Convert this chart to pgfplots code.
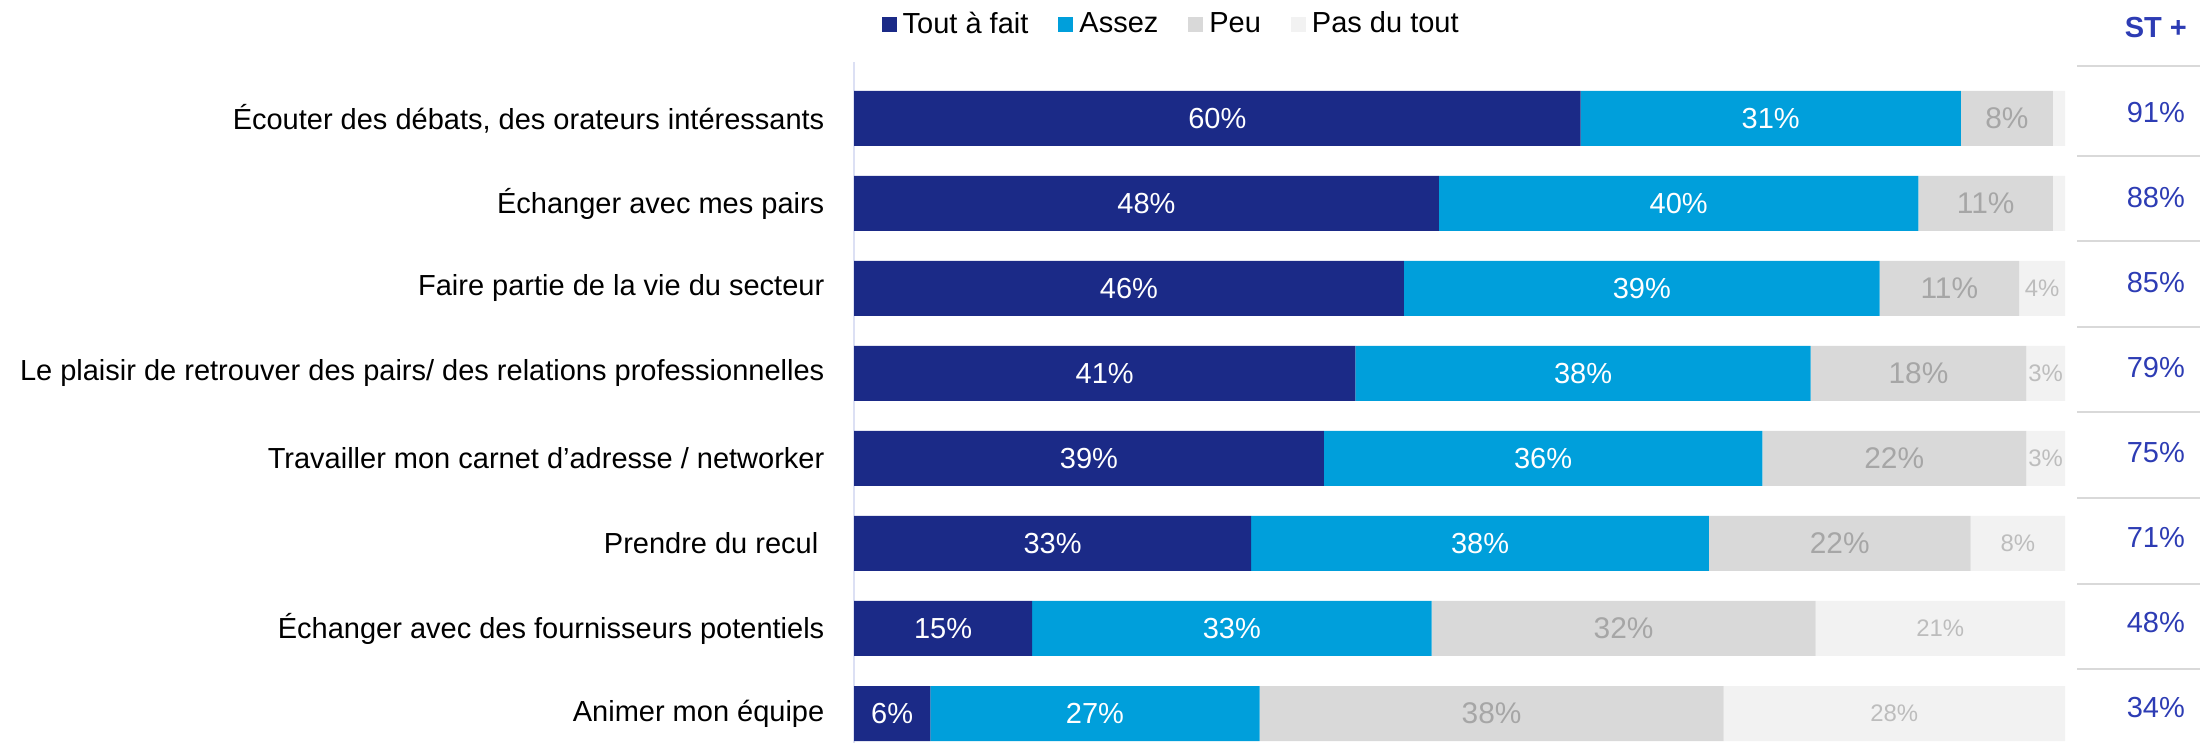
\documentclass[border=0pt]{standalone}
\usepackage{pgfplots}
\pgfplotsset{compat=1.18}
\usepackage{pgfplotstable}
\usepackage{fontspec}
\setmainfont{Liberation Sans}
\definecolor{cT}{HTML}{1B2A87}
\definecolor{cA}{HTML}{009FDB}
\definecolor{cP}{HTML}{D9D9D9}
\definecolor{cN}{HTML}{F2F2F2}
\definecolor{cST}{HTML}{2D3CB4}
\definecolor{cLab}{HTML}{A6A6A6}
\definecolor{cLabN}{HTML}{BDBDBD}
\definecolor{cAxis}{HTML}{DCE0F4}
\newcommand{\fs}[1]{\fontsize{#1}{#1}\selectfont}

\pgfplotstableread{
y a b c d
0 60.0 31.4 7.6 1.0
1 48.3 39.6 11.1 1.0
2 45.4 39.3 11.5 3.8
3 41.4 37.6 17.8 3.2
4 38.8 36.2 21.8 3.2
5 32.8 37.8 21.6 7.8
6 14.7 33.0 31.7 20.6
7 6.3 27.2 38.3 28.2
}\bars

\pgfplotsset{base/.style={
  at={(85.4mm,0)}, anchor=south west,
  width=121.1mm, height=74.3mm, scale only axis,
  xmin=0, xmax=100, ymin=-1.394, ymax=7.347, y dir=reverse,
  clip=false, axis line style={draw=none},
  xtick=\empty, major tick length=0pt,
}}

\begin{document}
\begin{tikzpicture}
\path[use as bounding box] (0,0) rectangle (220mm,74.3mm);
\begin{axis}[base,
  xbar stacked, bar width=5.5mm,
  ytick={0,...,7},
  yticklabels={{Écouter des débats, des orateurs intéressants},
    {Échanger avec mes pairs},
    {Faire partie de la vie du secteur},
    {Le plaisir de retrouver des pairs/ des relations professionnelles},
    {Travailler mon carnet d’adresse / networker},
    {Prendre du recul\hspace*{0.6mm}},
    {Échanger avec des fournisseurs potentiels},
    {Animer mon équipe}},
  yticklabel style={font=\fs{8.25}, anchor=east, inner sep=0pt, xshift=-2.9mm, text=black},
  legend columns=4,
  legend style={at={(axis cs:2.23,-1.10)}, anchor=west, draw=none, fill=none,
    font=\fs{8.25}, inner sep=0pt, nodes={inner sep=0.6mm},
    /tikz/every even column/.append style={column sep=2.4mm}},
  legend image code/.code={\fill[#1] (0mm,-0.75mm) rectangle (1.5mm,0.75mm);},
]
\addplot[fill=cT, draw=none] table[x=a, y=y]{\bars};
\addplot[fill=cA, draw=none] table[x=b, y=y]{\bars};
\addplot[fill=cP, draw=none] table[x=c, y=y]{\bars};
\addplot[fill=cN, draw=none] table[x=d, y=y]{\bars};
\legend{Tout à fait, Assez, Peu, Pas du tout}
\draw[cAxis, line width=0.2mm] (axis cs:0,-0.66) -- (axis cs:0,7.347);
\end{axis}

\begin{axis}[base, hide axis]
\addplot[draw=none, nodes near coords, point meta=explicit symbolic,
  nodes near coords style={anchor=center, text=white, font=\fs{8.25}}]
  coordinates {
  (30.0,0)[60\%] (75.7,0)[31\%]
  (24.15,1)[48\%] (68.1,1)[40\%]
  (22.7,2)[46\%] (65.05,2)[39\%]
  (20.7,3)[41\%] (60.2,3)[38\%]
  (19.4,4)[39\%] (56.9,4)[36\%]
  (16.4,5)[33\%] (51.7,5)[38\%]
  (7.35,6)[15\%] (31.2,6)[33\%]
  (3.15,7)[6\%] (19.9,7)[27\%]
  };
\addplot[draw=none, nodes near coords, point meta=explicit symbolic,
  nodes near coords style={anchor=center, text=cLab, font=\fs{8.5}}]
  coordinates {
  (95.2,0)[8\%] (93.45,1)[11\%] (90.45,2)[11\%] (87.9,3)[18\%]
  (85.9,4)[22\%] (81.4,5)[22\%] (63.55,6)[32\%] (52.65,7)[38\%]
  };
\addplot[draw=none, nodes near coords, point meta=explicit symbolic,
  nodes near coords style={anchor=center, text=cLabN, font=\fs{6.8}}]
  coordinates {
  (98.1,2)[4\%] (98.4,3)[3\%] (98.4,4)[3\%] (96.1,5)[8\%]
  (89.7,6)[21\%] (85.9,7)[28\%]
  };
\addplot[draw=none, nodes near coords, point meta=explicit symbolic,
  nodes near coords style={anchor=center, text=cST, font=\fs{8.25}}]
  coordinates {
  (107.5,-0.07)[91\%] (107.5,0.93)[88\%] (107.5,1.93)[85\%] (107.5,2.93)[79\%]
  (107.5,3.93)[75\%] (107.5,4.93)[71\%] (107.5,5.93)[48\%] (107.5,6.93)[34\%]
  };
\node[text=cST, font=\fs{8.25}\bfseries, anchor=center] at (axis cs:107.5,-1.07) {ST +};
\draw[cP, line width=0.2mm] (axis cs:101.0,-0.618) -- (axis cs:111.2,-0.618);
\draw[cP, line width=0.2mm] (axis cs:101.0,0.445) -- (axis cs:111.2,0.445);
\draw[cP, line width=0.2mm] (axis cs:101.0,1.445) -- (axis cs:111.2,1.445);
\draw[cP, line width=0.2mm] (axis cs:101.0,2.45) -- (axis cs:111.2,2.45);
\draw[cP, line width=0.2mm] (axis cs:101.0,3.455) -- (axis cs:111.2,3.455);
\draw[cP, line width=0.2mm] (axis cs:101.0,4.465) -- (axis cs:111.2,4.465);
\draw[cP, line width=0.2mm] (axis cs:101.0,5.475) -- (axis cs:111.2,5.475);
\draw[cP, line width=0.2mm] (axis cs:101.0,6.475) -- (axis cs:111.2,6.475);
\end{axis}
\end{tikzpicture}
\end{document}
